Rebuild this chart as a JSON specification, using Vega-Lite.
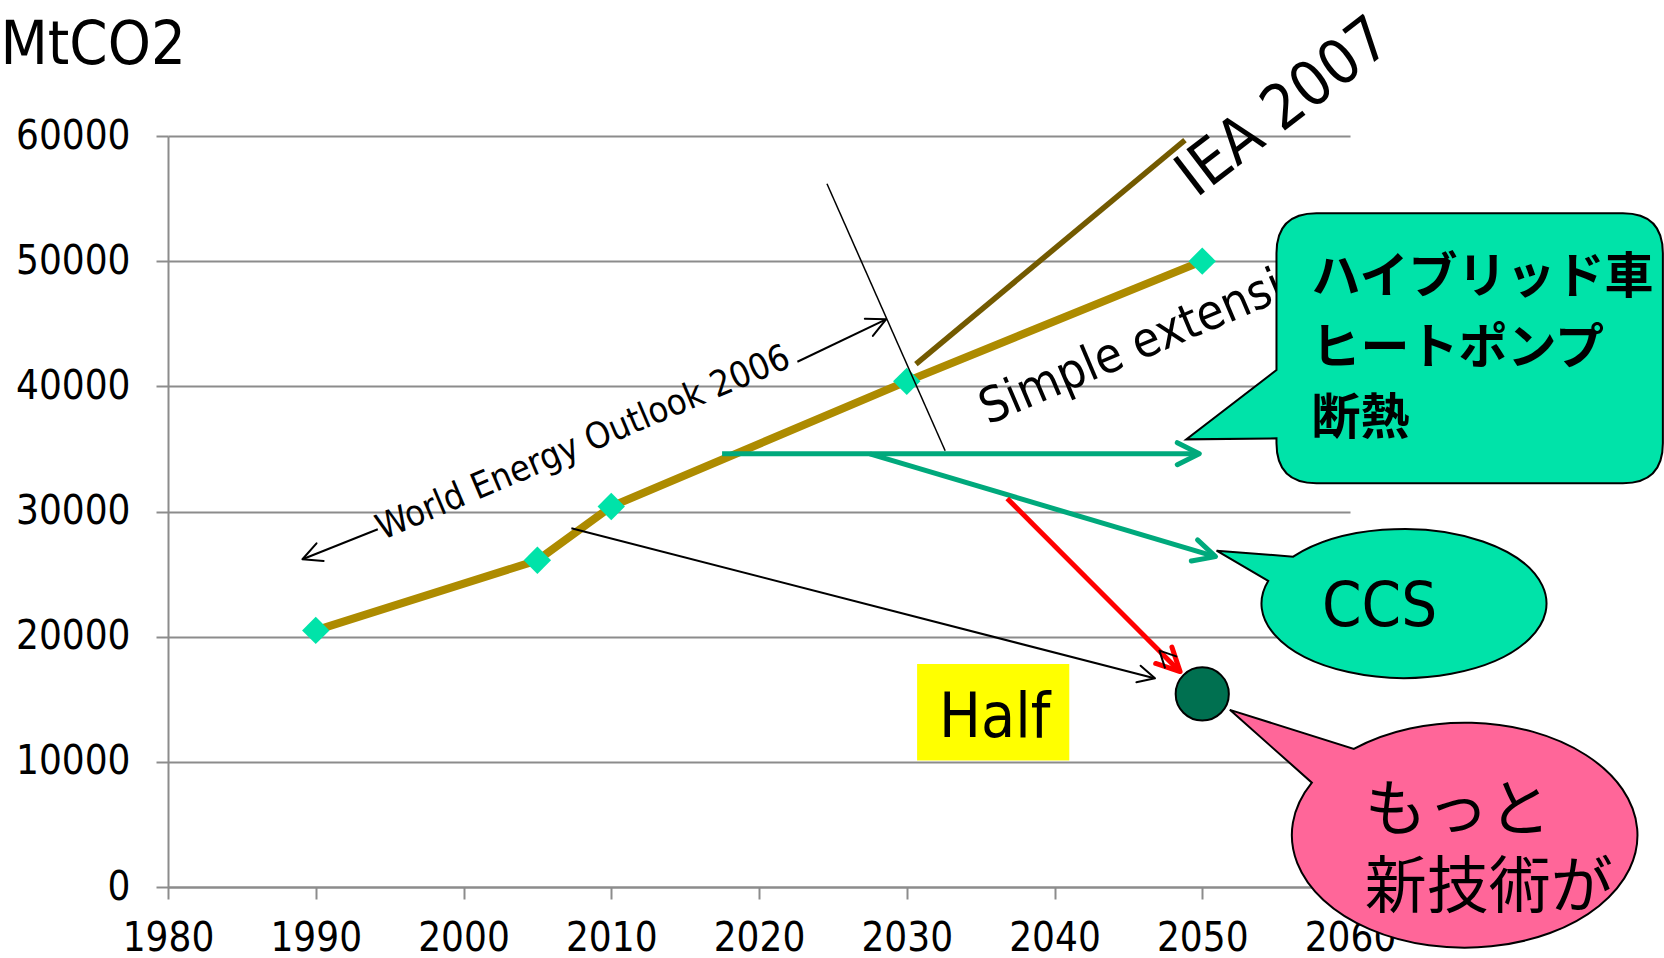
{
  "$schema": "https://vega.github.io/schema/vega-lite/v6.json",
  "width": 1182,
  "height": 751,
  "autosize": {"type": "none"},
  "padding": {"left": 168, "top": 136, "right": 314, "bottom": 71},
  "background": "white",
  "config": {"view": {"stroke": null}, "font": "DejaVu Sans Condensed, DejaVu Sans"},
  "datasets": {
    "emissions": [
      {"year": 1990, "value": 20500},
      {"year": 2005, "value": 26100},
      {"year": 2010, "value": 30400},
      {"year": 2030, "value": 40400},
      {"year": 2050, "value": 50000}
    ]
  },
  "encoding": {
    "x": {
      "field": "year", "type": "quantitative",
      "scale": {"domain": [1980, 2060], "nice": false, "zero": false},
      "axis": {
        "values": [1980, 1990, 2000, 2010, 2020, 2030, 2040, 2050, 2060],
        "format": "d", "grid": false, "title": null,
        "domainColor": "#8C8C8C", "domainWidth": 2,
        "tickColor": "#8C8C8C", "tickWidth": 2, "tickSize": 12,
        "labelFont": "DejaVu Sans Condensed, DejaVu Sans", "labelFontSize": 40, "labelColor": "black",
        "labelPadding": 19, "labelFlush": false, "labelOverlap": false
      }
    },
    "y": {
      "field": "value", "type": "quantitative",
      "scale": {"domain": [0, 60000], "nice": false},
      "title": "MtCO2",
      "axis": {
        "values": [0, 10000, 20000, 30000, 40000, 50000, 60000],
        "format": "d", "grid": true, "gridColor": "#8C8C8C", "gridWidth": 2,
        "domainColor": "#8C8C8C", "domainWidth": 2,
        "tickColor": "#8C8C8C", "tickWidth": 2, "tickSize": 12,
        "labelFont": "DejaVu Sans Condensed, DejaVu Sans", "labelFontSize": 40, "labelColor": "black",
        "labelPadding": 26, "labelFlush": false, "labelOverlap": false,
        "titleAngle": 0, "titleX": -168, "titleY": -73, "titleAlign": "left", "titleBaseline": "alphabetic",
        "titleFont": "DejaVu Sans Condensed, DejaVu Sans", "titleFontSize": 61, "titleFontWeight": "normal", "titleColor": "black"
      }
    }
  },
  "layer": [
    {
      "data": {"values": [{"year": 2030.7, "value": 17823, "year2": 2041.0, "value2": 10101}]},
      "mark": {"type": "rect", "fill": "#FFFF00"},
      "encoding": {"x2": {"field": "year2"}, "y2": {"field": "value2"}}
    },
    {
      "data": {"values": [{"year": 2035.95, "value": 12018, "label": "Half"}]},
      "mark": {"type": "text", "font": "DejaVu Sans Condensed, DejaVu Sans", "fontSize": 62, "align": "center", "baseline": "alphabetic", "color": "black"},
      "encoding": {"text": {"field": "label"}}
    },
    {
      "data": {"values": [{"year": 2030.62, "value": 41780}, {"year": 2048.83, "value": 59666}]},
      "mark": {"type": "line", "color": "#735A00", "strokeWidth": 5.5}
    },
    {
      "data": {"name": "emissions"},
      "mark": {"type": "line", "color": "#AD8B00", "strokeWidth": 8}
    },
    {
      "data": {"name": "emissions"},
      "mark": {"type": "point", "shape": "diamond", "filled": true, "color": "#00E3A9", "size": 750, "opacity": 1}
    },
    {
      "data": {"values": [{"year": 2024.6, "value": 56185}, {"year": 2032.6, "value": 34856}]},
      "mark": {"type": "line", "color": "black", "strokeWidth": 1.5}
    },
    {
      "data": {"values": [
        {"seg": "left", "year": 1989.1, "value": 26184},
        {"seg": "left", "year": 1994.2, "value": 28580},
        {"seg": "right", "year": 2022.6, "value": 41963},
        {"seg": "right", "year": 2028.6, "value": 45356}
      ]},
      "mark": {"type": "line", "color": "black", "strokeWidth": 2},
      "encoding": {"detail": {"field": "seg"}}
    },
    {
      "data": {"values": [{"year": 2008.1, "value": 35470, "label": "World Energy Outlook 2006"}]},
      "mark": {"type": "text", "font": "DejaVu Sans Condensed, DejaVu Sans", "fontSize": 36, "align": "center", "baseline": "middle", "angle": 337, "color": "black"},
      "encoding": {"text": {"field": "label"}}
    },
    {
      "data": {"values": [{"year": 2049.6, "value": 55000, "label": "IEA 2007"}]},
      "mark": {"type": "text", "font": "DejaVu Sans Condensed, DejaVu Sans", "fontSize": 62, "align": "left", "baseline": "alphabetic", "angle": 322.5, "color": "black"},
      "encoding": {"text": {"field": "label"}}
    },
    {
      "data": {"values": [{"year": 2035.5, "value": 36908, "label": "Simple extension"}]},
      "mark": {"type": "text", "font": "DejaVu Sans Condensed, DejaVu Sans", "fontSize": 49, "align": "left", "baseline": "alphabetic", "angle": 337, "color": "black"},
      "encoding": {"text": {"field": "label"}}
    },
    {
      "data": {"values": [
        {"seg": "h", "year": 2017.5, "value": 34620},
        {"seg": "h", "year": 2049.66, "value": 34620},
        {"seg": "d", "year": 2027.5, "value": 34600},
        {"seg": "d", "year": 2050.77, "value": 26437}
      ]},
      "mark": {"type": "line", "color": "#00A97C", "strokeWidth": 5},
      "encoding": {"detail": {"field": "seg"}}
    },
    {
      "data": {"values": [{"year": 2007.3, "value": 28660}, {"year": 2046.7, "value": 16700}]},
      "mark": {"type": "line", "color": "black", "strokeWidth": 2}
    },
    {
      "data": {"values": [{"year": 2036.8, "value": 31040}, {"year": 2048.4, "value": 17323}]},
      "mark": {"type": "line", "color": "#FF0000", "strokeWidth": 5}
    },
    {
      "data": {"values": [{"year": 2050, "value": 15428}]},
      "mark": {"type": "point", "shape": "circle", "filled": true, "fill": "#007050", "stroke": "black", "strokeWidth": 2, "size": 2827, "opacity": 1}
    },
    {
      "data": {"values": [{"year": 2068.1, "value": 43033}]},
      "mark": {"type": "point", "shape": "M -0.766 -0.675 L 0.766 -0.675 Q 0.966 -0.675 0.966 -0.475 L 0.966 0.475 Q 0.966 0.675 0.766 0.675 L -0.766 0.675 Q -0.966 0.675 -0.966 0.475 L -0.966 0.45 L -1.4175 0.455 L -0.966 0.1085 L -0.966 -0.475 Q -0.966 -0.675 -0.766 -0.675 Z", "filled": true, "fill": "#00E3A9", "stroke": "black", "strokeWidth": 2, "size": 160000, "opacity": 1}
    },
    {
      "data": {"values": [{"year": 2063.66, "value": 22630}]},
      "mark": {"type": "point", "shape": "M -0.7393 -0.314 A 0.95 0.4967 0 1 1 -0.906 -0.152 L -1.25 -0.354 Z", "filled": true, "fill": "#00E3A9", "stroke": "black", "strokeWidth": 2, "size": 90000, "opacity": 1}
    },
    {
      "data": {"values": [{"year": 2067.74, "value": 4104}]},
      "mark": {"type": "point", "shape": "M -0.5525 -0.434 A 0.864 0.5625 0 1 1 -0.7625 -0.265 L -1.1725 -0.629 Z", "filled": true, "fill": "#FF6699", "stroke": "black", "strokeWidth": 2, "size": 160000, "opacity": 1}
    },
    {
      "data": {"values": [
        {"year": 2057.4, "value": 48646, "label": "ハイブリッド車"},
        {"year": 2057.4, "value": 42977, "label": "ヒートポンプ"},
        {"year": 2057.4, "value": 37387, "label": "断熱"}
      ]},
      "mark": {"type": "text", "font": "Noto Sans CJK JP", "fontWeight": "bold", "fontSize": 49, "align": "left", "baseline": "middle", "color": "black"},
      "encoding": {"text": {"field": "label"}}
    },
    {
      "data": {"values": [{"year": 2062.0, "value": 20858, "label": "CCS"}]},
      "mark": {"type": "text", "font": "DejaVu Sans Condensed, DejaVu Sans", "fontSize": 63, "align": "center", "baseline": "alphabetic", "color": "black"},
      "encoding": {"text": {"field": "label"}}
    },
    {
      "data": {"values": [
        {"year": 2061.0, "value": 6028, "label": "もっと"},
        {"year": 2061.0, "value": -144, "label": "新技術が"}
      ]},
      "mark": {"type": "text", "font": "Noto Sans CJK JP", "fontSize": 62, "align": "left", "baseline": "middle", "color": "black"},
      "encoding": {"text": {"field": "label"}}
    },
    {
      "data": {"values": [{"year": 1989.1, "value": 26184}]},
      "mark": {"type": "point", "shape": "M -1 -0.5 L 0 0 L -1 0.5", "filled": false, "fill": "transparent", "stroke": "black", "strokeWidth": 2, "size": 1444, "angle": 158, "opacity": 1, "strokeCap": "round", "strokeJoin": "round"}
    },
    {
      "data": {"values": [{"year": 2028.6, "value": 45356}]},
      "mark": {"type": "point", "shape": "M -1 -0.5 L 0 0 L -1 0.5", "filled": false, "fill": "transparent", "stroke": "black", "strokeWidth": 2, "size": 1444, "angle": 335, "opacity": 1, "strokeCap": "round", "strokeJoin": "round"}
    },
    {
      "data": {"values": [{"year": 2049.8, "value": 34620}]},
      "mark": {"type": "point", "shape": "M -1 -0.5 L 0 0 L -1 0.5", "filled": false, "fill": "transparent", "stroke": "#00A97C", "strokeWidth": 5, "size": 1936, "angle": 0, "opacity": 1, "strokeCap": "round", "strokeJoin": "round"}
    },
    {
      "data": {"values": [{"year": 2050.9, "value": 26392}]},
      "mark": {"type": "point", "shape": "M -1 -0.5 L 0 0 L -1 0.5", "filled": false, "fill": "transparent", "stroke": "#00A97C", "strokeWidth": 5, "size": 1936, "angle": 16.4, "opacity": 1, "strokeCap": "round", "strokeJoin": "round"}
    },
    {
      "data": {"values": [{"year": 2048.5, "value": 17210}]},
      "mark": {"type": "point", "shape": "M -1 -0.5 L 0 0 L -1 0.5", "filled": false, "fill": "transparent", "stroke": "#FF0000", "strokeWidth": 5, "size": 2116, "angle": 45, "opacity": 1, "strokeCap": "round", "strokeJoin": "round"}
    },
    {
      "data": {"values": [{"year": 2046.8, "value": 16680}]},
      "mark": {"type": "point", "shape": "M -1 -0.5 L 0 0 L -1 0.5", "filled": false, "fill": "transparent", "stroke": "black", "strokeWidth": 2, "size": 1156, "angle": 14.4, "opacity": 1, "strokeCap": "round", "strokeJoin": "round"}
    },
    {
      "data": {"values": [{"year": 2047.1, "value": 18885}]},
      "mark": {"type": "point", "shape": "M -1 -0.5 L 0 0 L -1 0.5", "filled": false, "fill": "transparent", "stroke": "black", "strokeWidth": 2, "size": 1024, "angle": 225.4, "opacity": 1, "strokeCap": "round", "strokeJoin": "round"}
    }
  ]
}
